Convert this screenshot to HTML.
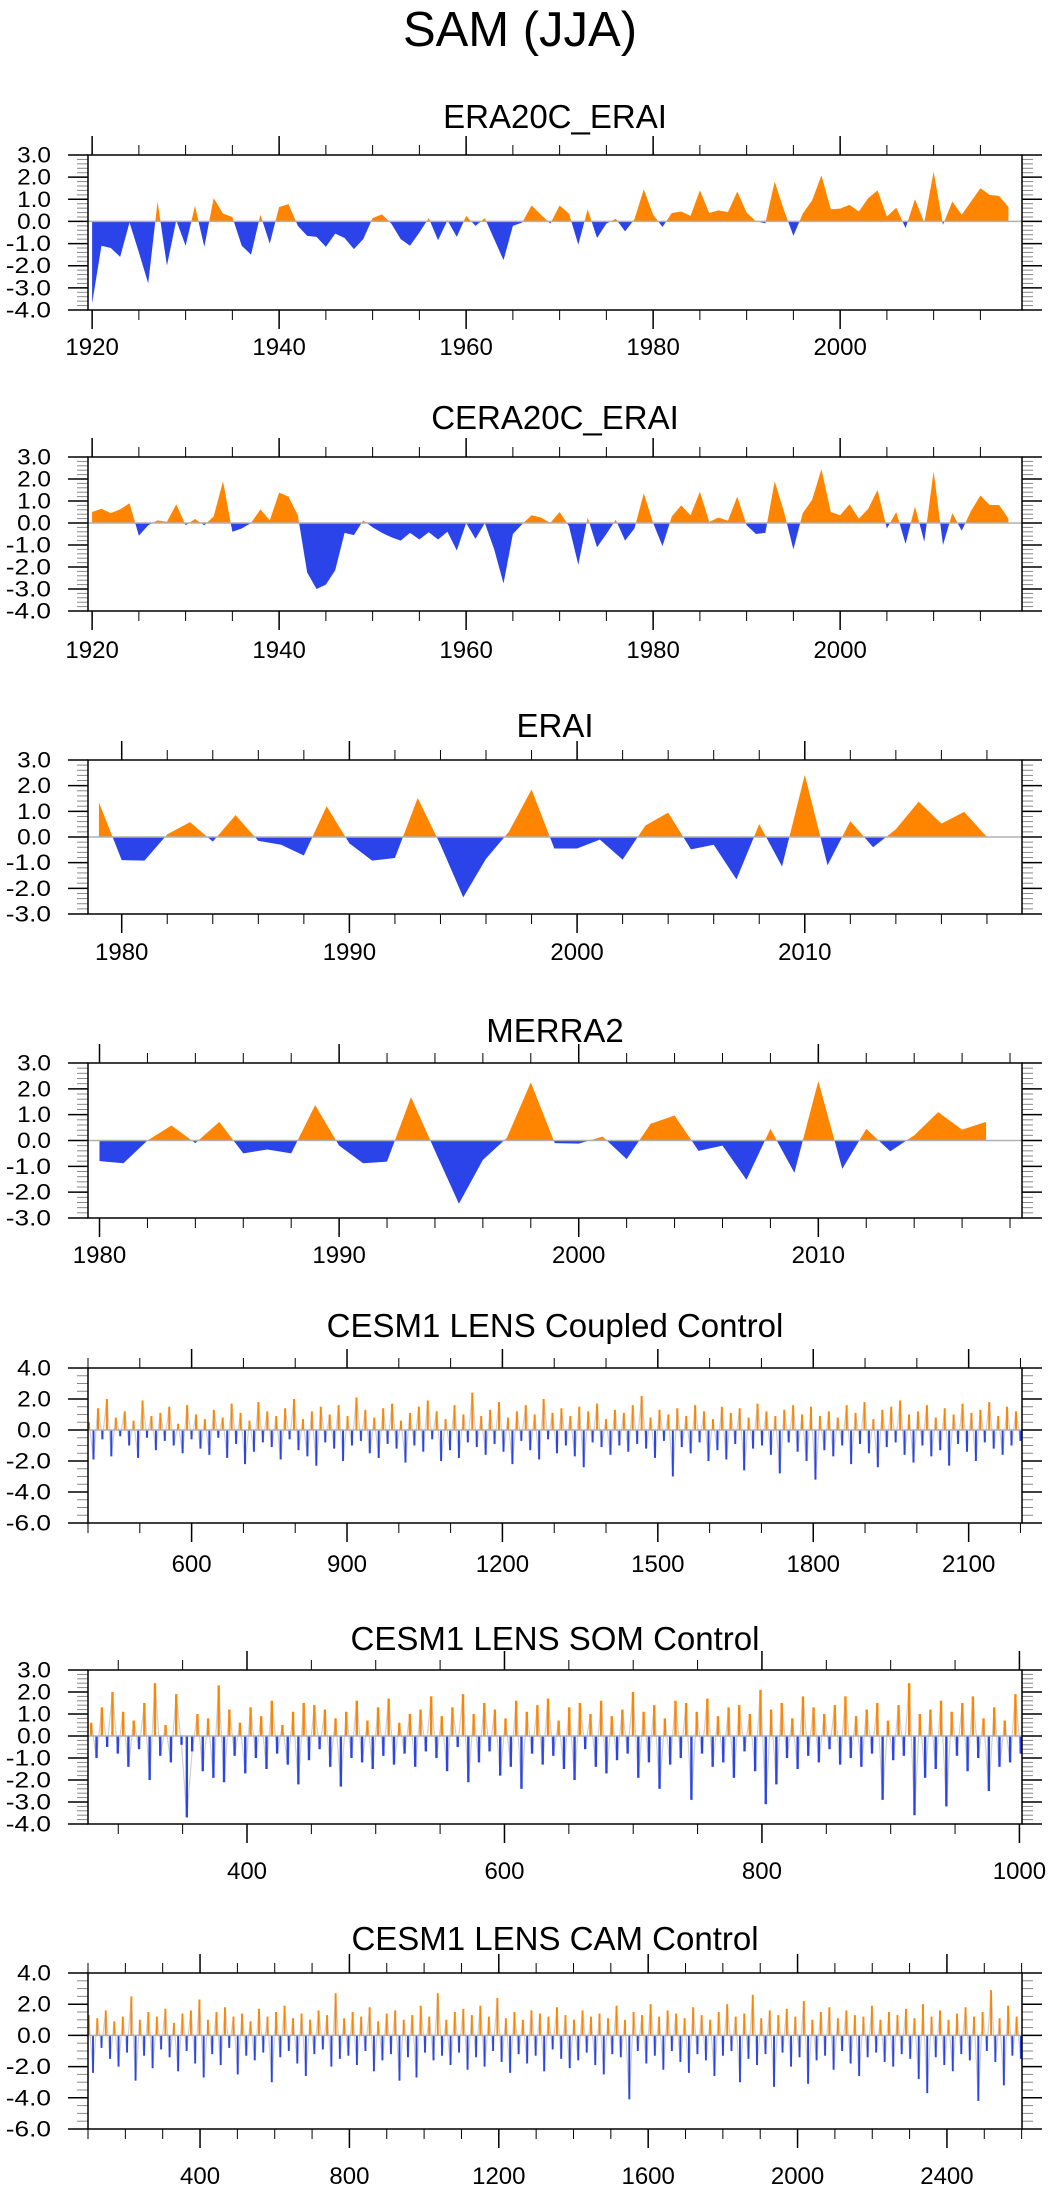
<!DOCTYPE html>
<html><head><meta charset="utf-8"><title>SAM (JJA)</title>
<style>
html,body{margin:0;padding:0;background:#fff;}
svg{display:block;font-family:"Liberation Sans",sans-serif;}
</style></head>
<body>
<svg id="fig" width="1049" height="2192" viewBox="0 0 1049 2192" xmlns="http://www.w3.org/2000/svg">
<text x="520" y="46" font-size="49" text-anchor="middle">SAM (JJA)</text>
</svg>
<script>
// ---------- data ----------
const era20cYears0 = 1920;
const era20cValues = [-3.7,-1.1,-1.2,-1.6,-0.05,-1.4,-2.8,0.9,-2.0,0.05,-1.1,0.7,-1.15,1.05,0.35,0.2,-1.1,-1.5,0.3,-1.0,
0.65,0.78,-0.2,-0.65,-0.7,-1.15,-0.55,-0.75,-1.25,-0.8,0.15,0.32,-0.1,-0.8,-1.1,-0.5,0.15,-0.85,0.05,-0.7,
0.25,-0.2,0.15,-0.8,-1.75,-0.2,-0.05,0.72,0.3,-0.1,0.72,0.35,-1.05,0.55,-0.75,-0.1,0.12,-0.45,0.1,1.45,
0.3,-0.25,0.38,0.45,0.25,1.4,0.38,0.5,0.42,1.35,0.4,0.0,-0.08,1.8,0.5,-0.65,0.35,0.95,2.08,0.55,
0.58,0.75,0.45,1.05,1.4,0.22,0.62,-0.3,1.0,-0.05,2.25,-0.15,0.9,0.3,0.9,1.5,1.2,1.15,0.65];
const cera20cYears0 = 1920;
const cera20cValues = [0.5,0.65,0.45,0.62,0.9,-0.58,-0.1,0.12,0.05,0.85,-0.1,0.18,-0.1,0.3,1.9,-0.4,-0.25,0.0,0.62,0.12,
1.38,1.2,0.35,-2.25,-3.0,-2.8,-2.15,-0.45,-0.55,0.12,-0.2,-0.45,-0.65,-0.8,-0.45,-0.75,-0.42,-0.75,-0.4,-1.25,
0.0,-0.72,0.0,-1.2,-2.75,-0.5,-0.05,0.35,0.25,0.0,0.5,-0.15,-1.9,0.25,-1.1,-0.5,0.15,-0.8,-0.25,1.35,
0.0,-1.05,0.3,0.8,0.35,1.42,0.05,0.25,0.1,1.2,-0.1,-0.5,-0.45,1.9,0.5,-1.2,0.45,1.05,2.45,0.5,
0.35,0.85,0.2,0.65,1.5,-0.25,0.5,-0.95,0.75,-0.85,2.35,-1.0,0.45,-0.35,0.55,1.25,0.82,0.82,0.2];
const eraiYears0 = 1979;
const eraiValues = [1.35,-0.9,-0.92,0.1,0.58,-0.18,0.85,-0.15,-0.3,-0.72,1.2,-0.25,-0.92,-0.82,1.52,-0.3,-2.35,-0.85,0.2,1.85,
-0.45,-0.45,-0.1,-0.88,0.45,0.95,-0.48,-0.3,-1.65,0.5,-1.15,2.42,-1.1,0.62,-0.4,0.3,1.38,0.52,0.98,0.0];
const merraYears0 = 1980;
const merraValues = [-0.8,-0.88,0.0,0.58,-0.1,0.72,-0.5,-0.35,-0.5,1.37,-0.2,-0.88,-0.82,1.68,-0.4,-2.45,-0.75,0.1,2.25,-0.1,
-0.12,0.15,-0.72,0.65,0.97,-0.4,-0.2,-1.52,0.45,-1.25,2.3,-1.1,0.45,-0.42,0.2,1.1,0.42,0.72];
const coupledYears0 = 402, coupledYearsEnd = 2200;
const coupledValues = [0.5,-1.9,1.4,-0.6,2.0,-1.7,0.8,-0.4,1.2,-1.0,0.6,-1.8,1.9,-0.5,0.9,
-1.3,1.1,-0.7,1.5,-1.0,0.4,-1.5,1.6,-0.6,1.0,-1.2,0.7,-1.6,1.3,-0.5,
0.8,-1.8,1.7,-0.9,1.1,-2.2,0.6,-1.4,1.8,-0.8,1.2,-1.1,0.9,-1.9,1.4,
-0.6,2.0,-1.3,0.7,-1.7,1.2,-2.3,1.5,-0.8,1.0,-1.2,1.6,-2.0,0.9,-1.0,
2.1,-0.7,1.3,-1.5,0.8,-1.8,1.4,-0.9,1.7,-1.2,0.6,-2.1,1.1,-1.0,1.5,
-1.4,1.9,-0.6,1.2,-2.0,0.7,-1.3,1.6,-1.8,1.0,-0.8,2.4,-1.1,0.9,-1.6,
1.3,-0.9,1.8,-1.4,0.8,-2.2,1.2,-0.7,1.6,-1.3,1.0,-1.9,2.0,-0.6,1.1,
-1.5,1.4,-1.0,0.9,-1.7,1.5,-2.4,1.2,-0.8,1.7,-1.1,0.7,-1.6,1.3,-1.0,
1.1,-1.4,1.6,-0.9,2.2,-1.2,0.8,-1.8,1.3,-0.7,1.0,-3.0,1.4,-1.1,0.9,
-1.5,1.6,-0.8,1.2,-2.0,0.7,-1.3,1.5,-1.9,1.1,-0.9,1.4,-2.6,0.8,-1.2,
1.7,-1.0,1.2,-1.6,0.9,-2.8,1.3,-0.8,1.6,-1.4,1.0,-2.0,1.5,-3.2,0.9,
-1.3,1.2,-1.7,0.8,-1.0,1.6,-2.2,1.1,-0.9,1.8,-1.5,0.7,-2.4,1.3,-1.1,
1.5,-0.8,1.9,-1.6,1.0,-2.1,1.2,-1.0,1.6,-1.7,0.8,-1.3,1.4,-2.3,1.0,
-0.9,1.7,-1.4,1.1,-2.0,1.3,-0.8,1.8,-1.2,0.9,-1.6,1.5,-1.0,1.2,-0.7];
const somYears0 = 279, somYearsEnd = 1001;
const somValues = [0.6,-1.0,1.3,-0.5,2.0,-0.8,1.1,-1.4,0.7,-0.6,1.5,-2.0,2.4,-0.9,0.5,-1.2,1.9,-0.4,-3.7,-0.7,
1.0,-1.6,0.8,-1.9,2.3,-2.1,1.2,-0.9,0.6,-1.7,1.3,-1.0,0.9,-1.5,1.6,-0.8,0.5,-1.3,1.1,-2.2,
1.5,-1.1,1.4,-0.6,1.2,-1.4,0.8,-2.3,1.1,-1.0,1.6,-1.2,0.7,-1.5,1.3,-0.9,1.7,-1.3,0.6,-0.8,
1.0,-1.4,1.2,-0.7,1.8,-1.0,0.9,-1.6,1.3,-0.5,1.9,-2.1,1.0,-1.2,1.5,-0.7,1.2,-1.8,0.8,-1.4,
1.6,-2.4,1.1,-0.8,1.4,-1.3,1.7,-0.9,0.7,-1.5,1.3,-2.0,1.5,-0.6,1.0,-1.4,1.6,-1.7,0.9,-1.1,
1.2,-0.8,2.0,-1.9,1.1,-1.2,1.4,-2.4,0.8,-1.3,1.6,-1.0,1.5,-2.9,1.1,-0.8,1.7,-1.4,0.9,-1.2,
1.3,-1.9,1.4,-0.7,1.0,-1.6,2.1,-3.1,1.2,-2.2,1.5,-1.0,0.8,-1.5,1.8,-0.9,1.3,-1.2,1.0,-0.6,
1.4,-1.3,1.8,-1.0,0.9,-1.4,1.2,-0.8,1.5,-2.9,0.7,-1.1,1.4,-0.9,2.4,-3.6,1.0,-1.9,1.2,-1.5,
1.6,-3.2,1.1,-0.9,1.5,-1.6,1.8,-1.0,0.8,-2.5,1.3,-1.4,0.7,-1.2,1.9,-0.8];
const camYears0 = 102, camYearsEnd = 2598;
const camValues = [1.3,-2.4,1.1,-0.8,1.6,-1.5,0.9,-2.0,1.2,-1.1,2.5,-2.9,1.0,-1.3,1.5,-2.1,1.2,-0.9,1.7,-1.4,
0.8,-2.3,1.4,-1.0,1.6,-1.8,2.3,-2.7,1.0,-1.2,1.5,-1.9,1.8,-0.8,1.2,-2.5,1.4,-1.3,0.9,-1.6,
1.7,-1.1,1.2,-3.0,1.5,-1.4,1.9,-1.0,1.1,-1.8,1.4,-2.6,1.0,-1.2,1.6,-0.9,1.3,-2.0,2.7,-1.5,
1.1,-1.3,1.5,-1.9,1.2,-1.0,1.8,-2.3,0.9,-1.6,1.4,-1.2,1.6,-2.9,1.0,-1.4,1.3,-2.7,1.9,-1.1,
1.2,-1.6,2.7,-1.3,1.0,-1.9,1.5,-1.1,1.7,-2.2,1.3,-1.4,1.9,-2.0,1.2,-1.0,2.4,-1.7,1.1,-2.4,
1.5,-1.2,1.0,-1.8,1.6,-1.3,1.4,-2.3,1.2,-0.9,1.8,-1.5,1.3,-2.1,1.0,-1.6,1.6,-1.1,1.2,-1.9,
1.4,-2.5,1.1,-1.2,1.9,-1.4,1.0,-4.1,1.5,-1.0,1.3,-1.8,2.0,-1.3,1.2,-2.2,1.6,-1.0,1.4,-1.7,
1.1,-2.4,1.8,-1.2,1.3,-1.6,1.0,-2.6,1.5,-1.3,2.0,-1.0,1.2,-3.0,1.4,-1.5,2.6,-1.9,1.1,-1.2,
1.6,-3.3,1.3,-1.1,1.7,-2.0,1.2,-1.4,2.2,-3.1,1.0,-1.6,1.5,-1.3,1.8,-2.2,1.1,-1.0,1.6,-1.8,
1.3,-2.6,1.2,-1.4,1.9,-1.1,1.0,-1.7,1.5,-2.0,1.3,-1.2,1.7,-1.5,1.1,-2.8,2.0,-3.7,1.2,-1.4,
1.6,-1.9,1.0,-2.3,1.4,-1.2,1.8,-1.6,1.2,-4.2,1.5,-1.0,2.9,-1.7,1.1,-3.2,1.9,-1.3,1.2,-1.5];
const titles = ["ERA20C_ERAI","CERA20C_ERAI","ERAI","MERRA2","CESM1 LENS Coupled Control","CESM1 LENS SOM Control","CESM1 LENS CAM Control"];
const yTickLabels = {a:["3.0","2.0","1.0","0.0","-1.0","-2.0","-3.0","-4.0"],b:["3.0","2.0","1.0","0.0","-1.0","-2.0","-3.0"],c:["4.0","2.0","0.0","-2.0","-4.0","-6.0"]};

// ---------- layout ----------
const NS = "http://www.w3.org/2000/svg";
const svg = document.getElementById('fig');
const ORANGE = "#ff8400", BLUE = "#2a44ea";
function mk(tag, attrs, parent){ const e=document.createElementNS(NS,tag); for(const k in attrs) e.setAttribute(k,attrs[k]); (parent||svg).appendChild(e); return e; }

const panels = [
 {key:"era20c",title:titles[0],vals:era20cValues,y0:era20cYears0,y1:era20cYears0+era20cValues.length-1,mode:"area",top:155,bot:310,ymin:-4,ymax:3,ymaj:1,ymin2:0.2,ylab:yTickLabels.a,xmin:1919.56,xmax:2019.45,xmaj:20,xmj0:1920,xminr:5,ty:128,ly:355},
 {key:"cera20c",title:titles[1],vals:cera20cValues,y0:cera20cYears0,y1:cera20cYears0+cera20cValues.length-1,mode:"area",top:457,bot:611,ymin:-4,ymax:3,ymaj:1,ymin2:0.2,ylab:yTickLabels.a,xmin:1919.56,xmax:2019.45,xmaj:20,xmj0:1920,xminr:5,ty:429,ly:658},
 {key:"erai",title:titles[2],vals:eraiValues,y0:eraiYears0,y1:eraiYears0+eraiValues.length-1,mode:"area",top:760,bot:914,ymin:-3,ymax:3,ymaj:1,ymin2:0.2,ylab:yTickLabels.b,xmin:1978.52,xmax:2019.54,xmaj:10,xmj0:1980,xminr:2,ty:737,ly:960},
 {key:"merra2",title:titles[3],vals:merraValues,y0:merraYears0,y1:merraYears0+merraValues.length-1,mode:"area",top:1063,bot:1218,ymin:-3,ymax:3,ymaj:1,ymin2:0.2,ylab:yTickLabels.b,xmin:1979.52,xmax:2018.5,xmaj:10,xmj0:1980,xminr:2,ty:1042,ly:1263},
 {key:"coupled",title:titles[4],vals:coupledValues,y0:coupledYears0,y1:coupledYearsEnd,mode:"bar",top:1368,bot:1523,ymin:-6,ymax:4,ymaj:2,ymin2:0.5,ylab:yTickLabels.c,xmin:400,xmax:2203,xmaj:300,xmj0:600,xminr:100,ty:1337,ly:1572},
 {key:"som",title:titles[5],vals:somValues,y0:somYears0,y1:somYearsEnd,mode:"bar",top:1670,bot:1824,ymin:-4,ymax:3,ymaj:1,ymin2:0.2,ylab:yTickLabels.a,xmin:276.5,xmax:1002,xmaj:200,xmj0:400,xminr:50,ty:1650,ly:1879},
 {key:"cam",title:titles[6],vals:camValues,y0:camYears0,y1:camYearsEnd,mode:"bar",top:1973,bot:2129,ymin:-6,ymax:4,ymaj:2,ymin2:0.5,ylab:yTickLabels.c,xmin:100,xmax:2601,xmaj:400,xmj0:400,xminr:100,ty:1950,ly:2184}
];
const L=88, R=1022;

panels.forEach(p=>{
  const g = mk('g',{});
  
  
  const X = v => L + (v - p.xmin)/(p.xmax - p.xmin)*(R-L);
  const Y = v => p.top + (p.ymax - v)/(p.ymax - p.ymin)*(p.bot-p.top);
  const n = p.vals.length;
  const yr = i => p.y0 + i*(p.y1-p.y0)/(n-1);
  const t = mk('text',{x:555,y:p.ty,'font-size':33,'text-anchor':'middle'},g);
  t.textContent = p.title;
  
  
  const cid = 'clip-'+p.key;
  const defs = mk('defs',{},g);
  const cpA = mk('clipPath',{id:cid+'-a'},defs); mk('rect',{x:L,y:p.top,width:R-L,height:Y(0)-p.top},cpA);
  const cpB = mk('clipPath',{id:cid+'-b'},defs); mk('rect',{x:L,y:Y(0),width:R-L,height:p.bot-Y(0)},cpB);
  const zero = Y(0);
  if(p.mode==="area"){
    const pts = p.vals.map((v,i)=>X(yr(i)).toFixed(2)+','+Y(v).toFixed(2));
    const first = X(yr(0)).toFixed(2), last = X(yr(n-1)).toFixed(2);
    const d = first+','+zero+' '+pts.join(' ')+' '+last+','+zero;
    const a = mk('polygon',{points:d,fill:ORANGE,'clip-path':'url(#'+cid+'-a)'},g);
    
    
    const b = mk('polygon',{points:d,fill:BLUE,'clip-path':'url(#'+cid+'-b)'},g);
    
    
  } else {
    const pts = p.vals.map((v,i)=>X(yr(i)).toFixed(2)+','+Y(v).toFixed(2)).join(' ');
    const ln = mk('polyline',{points:pts,fill:'none',stroke:'#d0d0d0','stroke-width':1.2},g);
    
    
    const sp = (X(yr(1))-X(yr(0)));
    const w = Math.max(1.2, sp*0.45);
    p.vals.forEach((v,i)=>{
      const x = X(yr(i));
      const r = mk('rect',{x:(x-w/2).toFixed(2),y:Math.min(Y(v),zero).toFixed(2),width:w.toFixed(2),height:Math.abs(Y(v)-zero).toFixed(2),fill:v>=0?ORANGE:BLUE},g);
      
      
    });
  }
  const zl = mk('line',{x1:L,x2:R,y1:zero,y2:zero,stroke:'#b0b0b0','stroke-width':1.5},g);
  
  
  // y ticks
  const nmin = Math.round((p.ymax-p.ymin)/p.ymin2);
  for(let k=0;k<=nmin;k++){
    const v = p.ymax - k*p.ymin2, y=Y(v);
    mk('line',{x1:L-11,x2:L,y1:y,y2:y,stroke:'#888','stroke-width':1},g);
    mk('line',{x1:R,x2:R+11,y1:y,y2:y,stroke:'#888','stroke-width':1},g);
  }
  p.ylab.forEach((s,k)=>{
    const v = p.ymax - k*p.ymaj, y=Y(v);
    mk('line',{x1:L-20,x2:L,y1:y,y2:y,stroke:'#000','stroke-width':1.5},g);
    mk('line',{x1:R,x2:R+20,y1:y,y2:y,stroke:'#000','stroke-width':1.5},g);
    const tl = mk('text',{x:51,y:y+7.5,'font-size':22,'text-anchor':'end',textLength:s.length*11.3,lengthAdjust:'spacingAndGlyphs'},g);
    tl.textContent = s;
    
    
  });
  // x ticks
  const startMinor = Math.ceil(p.xmin/p.xminr)*p.xminr;
  for(let v=startMinor; v<=p.xmax; v+=p.xminr){
    const x=X(v);
    mk('line',{x1:x,x2:x,y1:p.top-10,y2:p.top,stroke:'#000','stroke-width':1},g);
    mk('line',{x1:x,x2:x,y1:p.bot,y2:p.bot+10,stroke:'#000','stroke-width':1},g);
  }
  for(let v=p.xmj0; v<=p.xmax; v+=p.xmaj){
    const x=X(v);
    mk('line',{x1:x,x2:x,y1:p.top-19,y2:p.top,stroke:'#000','stroke-width':1.5},g);
    mk('line',{x1:x,x2:x,y1:p.bot,y2:p.bot+19,stroke:'#000','stroke-width':1.5},g);
    const tl = mk('text',{x:x,y:p.ly,'font-size':24,'text-anchor':'middle'},g);
    tl.textContent = String(v);
    
    
  }
  const fr = mk('rect',{x:L,y:p.top,width:R-L,height:p.bot-p.top,fill:'none',stroke:'#000','stroke-width':1.5},g);
  
  
});
</script>
</body></html>
